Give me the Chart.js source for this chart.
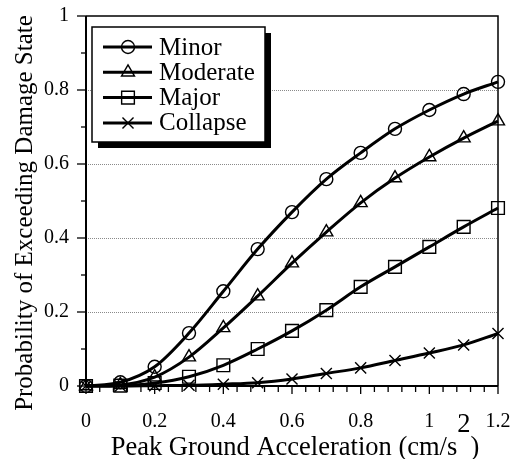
<!DOCTYPE html>
<html><head><meta charset="utf-8">
<script src="https://cdn.jsdelivr.net/npm/chart.js@4.4.1/dist/chart.umd.min.js"></script>
<style>html,body{margin:0;padding:0;background:#fff}#wrap{width:514px;height:459px;position:relative}</style>
</head><body><div id="wrap"><canvas id="c" width="514" height="459"></canvas></div>
<script>
// ---- data ----
const pga = [0, 0.1, 0.2, 0.3, 0.4, 0.5, 0.6, 0.7, 0.8, 0.9, 1.0, 1.1, 1.2];
const minorDS = [0, 0.010, 0.052, 0.143, 0.256, 0.370, 0.470, 0.559, 0.630, 0.695, 0.746, 0.789, 0.822];
const moderateDS = [0, 0.003, 0.024, 0.078, 0.157, 0.243, 0.332, 0.416, 0.495, 0.562, 0.619, 0.670, 0.716];
const majorDS = [0, 0.001, 0.008, 0.025, 0.056, 0.100, 0.149, 0.205, 0.268, 0.322, 0.376, 0.430, 0.481];
const collapseDS = [0, 0, 0.001, 0.002, 0.005, 0.009, 0.019, 0.034, 0.049, 0.069, 0.089, 0.111, 0.142];
const seriesNames = ['Minor', 'Moderate', 'Major', 'Collapse'];
const xTickValues = [0, 0.2, 0.4, 0.6, 0.8, 1.0, 1.2];
const xTickLabels = ['0', '0.2', '0.4', '0.6', '0.8', '1', '1.2'];
const yTickValues = [0, 0.2, 0.4, 0.6, 0.8, 1.0];
const yTickLabels = ['0', '0.2', '0.4', '0.6', '0.8', '1'];
const yGridValues = [0.2, 0.4, 0.6, 0.8];
const xTitle = 'Peak Ground Acceleration (cm/s';
const xTitleSup = '2';
const xTitleEnd = ')';
const yTitle = 'Probability of Exceeding Damage State';

const FONT = '"Liberation Serif", "Times New Roman", serif';
const styles = [
  {pointStyle: 'circle', r: 6.5},
  {pointStyle: 'triangle', r: 7.5},
  {pointStyle: 'rect', r: 9},
  {pointStyle: 'crossRot', r: 7.8}
];
const allSeries = [minorDS, moderateDS, majorDS, collapseDS];

const datasets = allSeries.map((s, i) => ({
  label: seriesNames[i],
  data: pga.map((x, j) => ({x: x, y: s[j]})),
  borderColor: '#000',
  borderWidth: 3,
  backgroundColor: 'rgba(0,0,0,0)',
  pointStyle: styles[i].pointStyle,
  pointRadius: styles[i].r,
  pointBorderWidth: 1.4,
  pointBorderColor: '#000',
  pointBackgroundColor: 'rgba(0,0,0,0)',
  cubicInterpolationMode: 'monotone',
  fill: false,
  clip: false
}));

function drawMarker(ctx, style, r, x, y) {
  if (Chart.helpers && Chart.helpers.drawPoint) {
    Chart.helpers.drawPoint(ctx, {pointStyle: style, radius: r, borderWidth: 1.4, rotation: 0}, x, y);
  }
}

const framePlugin = {
  id: 'frame',
  beforeDatasetsDraw(chart) {
    const ctx = chart.ctx, a = chart.chartArea, xs = chart.scales.x, ys = chart.scales.y;
    ctx.save();
    ctx.strokeStyle = '#8a8a8a'; ctx.lineWidth = 1; ctx.setLineDash([1, 1]);
    yGridValues.forEach(v => {
      const py = Math.round(ys.getPixelForValue(v)) + 0.5;
      ctx.beginPath(); ctx.moveTo(a.left, py); ctx.lineTo(a.right, py); ctx.stroke();
    });
    ctx.setLineDash([]);
    ctx.strokeStyle = '#000';
    ctx.lineWidth = 1.5;
    ctx.beginPath(); ctx.moveTo(a.left, a.top); ctx.lineTo(a.right, a.top); ctx.lineTo(a.right, a.bottom); ctx.stroke();
    ctx.lineWidth = 2;
    ctx.beginPath(); ctx.moveTo(a.left, a.top); ctx.lineTo(a.left, a.bottom); ctx.lineTo(a.right, a.bottom); ctx.stroke();
    // y ticks (major + minor)
    ctx.lineWidth = 1.3;
    for (let i = 0; i <= 10; i++) {
      const v = i / 10, py = ys.getPixelForValue(v);
      const len = (i % 2 === 0) ? 9 : 5;
      ctx.beginPath(); ctx.moveTo(a.left - len, py); ctx.lineTo(a.left, py); ctx.stroke();
    }
    // x ticks (major every 0.2, minor every 0.04)
    for (let i = 0; i <= 30; i++) {
      const v = i * 0.04, px = xs.getPixelForValue(v);
      const len = (i % 5 === 0) ? 8 : 6;
      ctx.beginPath(); ctx.moveTo(px, a.bottom); ctx.lineTo(px, a.bottom + len); ctx.stroke();
    }
    ctx.restore();
  },
  afterDraw(chart) {
    const ctx = chart.ctx, a = chart.chartArea;
    ctx.save();
    // legend
    const lx = 92, ly = 27, lw = 173, lh = 115;
    ctx.fillStyle = '#000'; ctx.fillRect(lx + 6, ly + 6, lw, lh);
    ctx.fillStyle = '#fff'; ctx.fillRect(lx, ly, lw, lh);
    ctx.strokeStyle = '#000'; ctx.lineWidth = 1.5; ctx.strokeRect(lx, ly, lw, lh);
    chart.data.datasets.forEach((ds, i) => {
      const cy = 47 + i * 25.3;
      ctx.strokeStyle = '#000'; ctx.lineWidth = 3;
      ctx.beginPath(); ctx.moveTo(103, cy); ctx.lineTo(152, cy); ctx.stroke();
      ctx.fillStyle = 'rgba(0,0,0,0)'; ctx.lineWidth = 1.4;
      drawMarker(ctx, ds.pointStyle, ds.pointRadius, 128, cy);
      ctx.fillStyle = '#000';
      ctx.font = '25px ' + FONT; ctx.textAlign = 'left'; ctx.textBaseline = 'middle';
      ctx.fillText(ds.label, 159, cy + 1);
    });
    // y title
    ctx.fillStyle = '#000';
    ctx.font = '25px ' + FONT;
    ctx.translate(25, 213); ctx.rotate(-Math.PI / 2);
    ctx.textAlign = 'center'; ctx.textBaseline = 'middle';
    ctx.fillText(yTitle, 0, 0);
    ctx.setTransform(1, 0, 0, 1, 0, 0);
    // x title
    ctx.font = '26.5px ' + FONT; ctx.textAlign = 'left'; ctx.textBaseline = 'alphabetic';
    const w1 = ctx.measureText(xTitle).width, w2 = ctx.measureText(xTitleSup).width, w3 = ctx.measureText(xTitleEnd).width;
    let sx = (a.left + a.right) / 2 + 3 - (w1 + w2 + w3) / 2;
    ctx.fillText(xTitle, sx, 455);
    ctx.fillText(xTitleSup, sx + w1, 432);
    ctx.fillText(xTitleEnd, sx + w1 + w2, 455);
    ctx.restore();
  }
};

new Chart(document.getElementById('c'), {
  type: 'line',
  data: {datasets: datasets},
  plugins: [framePlugin],
  options: {
    responsive: false,
    animation: false,
    devicePixelRatio: 1,
    layout: {padding: {top: 16, right: 16, left: 0, bottom: 0}},
    plugins: {legend: {display: false}, tooltip: {enabled: false}, title: {display: false}},
    scales: {
      x: {
        type: 'linear', min: 0, max: 1.2,
        afterBuildTicks: s => { s.ticks = xTickValues.map(v => ({value: v})); },
        afterFit: s => { s.height = 73; s.paddingLeft = 0; s.paddingRight = 0; },
        ticks: {callback: (v, i) => xTickLabels[i], font: {family: FONT, size: 20}, color: '#000', padding: 0, maxRotation: 0, autoSkip: false},
        grid: {display: true, drawOnChartArea: false, drawTicks: true, tickLength: 24, color: 'rgba(0,0,0,0)'},
        border: {display: false}
      },
      y: {
        type: 'linear', min: 0, max: 1,
        afterBuildTicks: s => { s.ticks = yTickValues.map(v => ({value: v})); },
        afterFit: s => { s.width = 86; s.paddingTop = 0; s.paddingBottom = 0; },
        ticks: {callback: (v, i) => yTickLabels[i], font: {family: FONT, size: 20}, color: '#000', padding: 0, autoSkip: false},
        grid: {display: true, drawOnChartArea: false, drawTicks: true, tickLength: 17, color: 'rgba(0,0,0,0)'},
        border: {display: false}
      }
    }
  }
});
</script>
</body></html>
